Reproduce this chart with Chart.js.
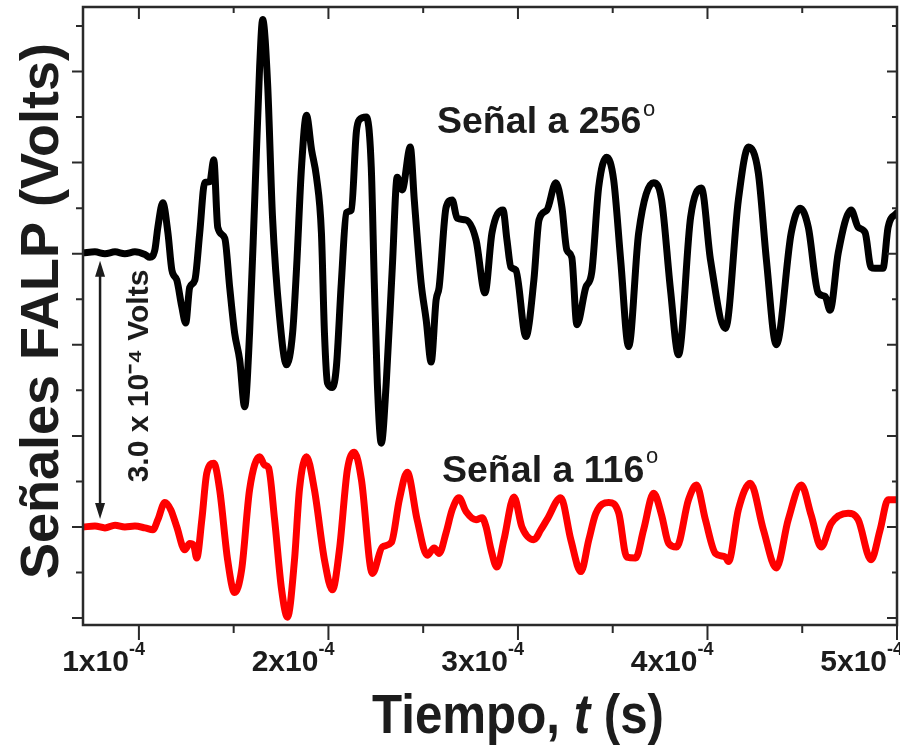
<!DOCTYPE html>
<html>
<head>
<meta charset="utf-8">
<script src="https://cdn.jsdelivr.net/npm/chart.js@4.4.1/dist/chart.umd.min.js"></script>
<style>
  html, body { margin: 0; padding: 0; background: #fff; }
  #wrap { width: 900px; height: 748px; }
</style>
</head>
<body>
<div id="wrap"><canvas id="falpChart" width="900" height="748"></canvas></div>
<script>
// tiempo en microsegundos (100 us = 1x10^-4 s), senal en unidades de 1x10^-4 V
const tiempo256 = [
  70.5, 76.8, 82.1, 87.4, 92.6, 97.9, 103.2, 105.8, 108.4, 110.0,
  112.6, 115.3, 117.4, 120.0, 122.6, 124.7, 126.8, 129.5, 132.1, 134.7,
  137.4, 139.5, 141.6, 145.3, 147.9, 150.5, 153.2, 155.8, 158.4, 161.1,
  163.7, 165.3, 167.9, 170.5, 174.2, 177.9, 181.1, 183.2, 185.8, 188.4,
  191.1, 193.7, 196.3, 197.9, 199.5, 202.1, 204.2, 206.8, 209.5, 212.1,
  214.7, 216.3, 220.0, 222.6, 224.2, 225.8, 227.9, 230.5, 233.7, 236.3,
  238.9, 243.2, 245.3, 248.9, 251.6, 254.2, 256.8, 258.4, 262.1, 265.3,
  267.9, 272.6, 277.9, 282.6, 286.3, 292.1, 294.2, 296.3, 298.9, 304.2,
  308.4, 311.1, 315.3, 320.0, 323.2, 325.8, 328.4, 331.1, 335.8, 338.9,
  342.6, 346.8, 350.5, 354.2, 358.4, 363.7, 371.6, 375.8, 380.5, 384.7,
  391.1, 396.8, 401.6, 409.5, 416.3, 421.6, 426.8, 431.1, 436.3, 444.2,
  448.9, 453.2, 458.4, 462.1, 464.7, 469.0, 475.8, 479.5, 483.2, 486.3,
  488.4, 492.6, 495.3, 500.0
];
const senal256 = [
  3.01, 3.02, 3.00, 3.02, 3.00, 3.02, 2.99, 2.96, 3.04, 3.29,
  3.56, 3.23, 2.82, 2.71, 2.42, 2.24, 2.63, 2.71, 3.23, 3.78,
  3.79, 4.03, 3.29, 3.17, 2.63, 2.13, 1.83, 1.32, 2.13, 3.59,
  5.05, 5.57, 4.87, 3.40, 2.31, 1.78, 2.13, 2.85, 3.95, 4.52,
  4.14, 3.84, 3.23, 2.13, 1.58, 1.53, 1.76, 2.68, 3.45, 3.48,
  4.33, 4.47, 4.50, 3.95, 2.68, 1.58, 0.92, 1.58, 2.85, 3.84,
  3.70, 4.17, 3.59, 2.68, 2.27, 1.81, 2.49, 2.63, 3.51, 3.59,
  3.39, 3.37, 3.15, 2.57, 3.23, 3.48, 3.15, 2.85, 2.82, 2.09,
  2.71, 3.37, 3.48, 3.78, 3.51, 3.04, 2.96, 2.22, 2.63, 2.79,
  3.73, 4.06, 3.81, 2.93, 1.98, 3.23, 3.78, 3.59, 2.60, 1.89,
  3.40, 3.72, 2.93, 2.18, 3.59, 4.17, 3.89, 2.93, 2.00, 3.23,
  3.50, 3.29, 2.57, 2.53, 2.38, 3.01, 3.48, 3.29, 3.23, 2.85,
  2.84, 2.84, 3.29, 3.45
];
const tiempo116 = [
  70.5, 76.8, 82.1, 87.4, 92.6, 97.9, 103.2, 107.4, 110.0, 113.7,
  116.8, 120.0, 124.2, 126.8, 128.9, 130.5, 133.2, 135.8, 139.5, 142.6,
  146.8, 150.5, 154.2, 158.4, 163.7, 166.3, 168.4, 171.6, 175.3, 178.4,
  182.1, 184.7, 188.4, 192.6, 197.9, 202.1, 205.8, 210.0, 213.7, 217.4,
  223.2, 228.4, 233.2, 237.4, 241.6, 246.8, 252.1, 255.8, 258.4, 262.1,
  265.3, 268.9, 272.6, 277.9, 281.1, 283.2, 285.8, 288.9, 292.6, 297.9,
  302.1, 308.4, 312.1, 315.3, 322.6, 327.9, 333.2, 337.4, 341.1, 347.9,
  353.2, 357.4, 362.1, 366.3, 371.6, 375.8, 379.5, 383.7, 390.0, 394.2,
  398.9, 404.2, 409.5, 411.1, 416.3, 422.6, 429.5, 436.3, 442.6, 449.5,
  454.7, 460.0, 465.3, 474.2, 479.5, 486.3, 491.1, 495.3, 500.0
];
const senal116 = [
  0.00, 0.01, -0.01, 0.02, 0.00, 0.01, -0.01, -0.03, 0.08, 0.27,
  0.19, 0.00, -0.25, -0.18, -0.20, -0.34, 0.08, 0.59, 0.70, 0.41,
  -0.36, -0.72, -0.47, 0.41, 0.77, 0.68, 0.65, 0.08, -0.69, -0.99,
  -0.36, 0.41, 0.77, 0.41, -0.36, -0.69, -0.25, 0.63, 0.82, 0.52,
  -0.51, -0.22, -0.17, 0.30, 0.60, 0.08, -0.31, -0.23, -0.29, -0.06,
  0.19, 0.32, 0.17, 0.08, 0.10, 0.00, -0.25, -0.44, -0.14, 0.33,
  0.00, -0.14, -0.03, 0.08, 0.32, -0.14, -0.49, -0.14, 0.15, 0.27,
  0.15, -0.33, -0.34, -0.03, 0.37, 0.13, -0.18, -0.22, 0.30, 0.46,
  0.08, -0.29, -0.33, -0.38, 0.19, 0.48, -0.03, -0.45, 0.08, 0.46,
  0.13, -0.22, 0.04, 0.15, 0.08, -0.36, -0.03, 0.30, 0.30
];
// marcas de los ejes
const xTickMarks = [100, 150, 200, 250, 300, 350, 400, 450, 500];
const xTickValues = [100, 200, 300, 400, 500];
const xTickMantisa = ['1x10', '2x10', '3x10', '4x10', '5x10'];
const xTickExp = '-4';
const yTickMarks = [-1, -0.5, 0, 0.5, 1, 1.5, 2, 2.5, 3, 3.5, 4, 4.5, 5, 5.5];
// flecha de separacion entre las dos lineas base
const flechaT = 79.5;
const flechaDesde = 0.0;
const flechaHasta = 3.0;

const FONT = "'Liberation Sans', Arial, sans-serif";
const INK = '#1c1c1c';

function toPoints(xs, ys) {
  const n = Math.min(xs.length, ys.length);
  const pts = [];
  for (let i = 0; i < n; i++) pts.push({ x: xs[i], y: ys[i] });
  return pts;
}

const framePlugin = {
  id: 'frame',
  afterDraw(chart) {
    const { ctx, chartArea: a, scales: { x, y } } = chart;
    ctx.save();
    ctx.strokeStyle = '#2a2a2a';
    ctx.lineWidth = 2.5;
    ctx.strokeRect(a.left, a.top, a.right - a.left, a.bottom - a.top);
    ctx.lineWidth = 2;
    ctx.beginPath();
    x.ticks.forEach(t => {
      const px = x.getPixelForValue(t.value);
      const major = t.value % 100 === 0;
      ctx.moveTo(px, a.bottom);
      ctx.lineTo(px, a.bottom + (major ? 15 : 8));
      ctx.moveTo(px, a.top);
      ctx.lineTo(px, a.top + (major ? 12 : 6));
    });
    y.ticks.forEach(t => {
      const py = y.getPixelForValue(t.value);
      const major = Math.abs(t.value - Math.round(t.value)) < 1e-6;
      ctx.moveTo(a.left, py);
      ctx.lineTo(a.left - (major ? 11 : 7), py);
      ctx.moveTo(a.right, py);
      ctx.lineTo(a.right - (major ? 10 : 5), py);
    });
    ctx.stroke();

    // etiquetas del eje x con exponente
    ctx.fillStyle = INK;
    ctx.textBaseline = 'alphabetic';
    ctx.textAlign = 'left';
    xTickValues.forEach((v, i) => {
      const px = x.getPixelForValue(v);
      ctx.font = `bold 18px ${FONT}`;
      const we = ctx.measureText(xTickExp).width;
      ctx.font = `bold 30px ${FONT}`;
      const wb = ctx.measureText(xTickMantisa[i]).width;
      const right = px + 6;
      ctx.fillText(xTickMantisa[i], right - we - wb, 671);
      ctx.font = `bold 18px ${FONT}`;
      ctx.fillText(xTickExp, right - we, 655);
    });
    ctx.restore();
  }
};

const textPlugin = {
  id: 'texts',
  afterDraw(chart) {
    const { ctx, scales: { x, y } } = chart;
    ctx.save();
    ctx.fillStyle = INK;
    ctx.strokeStyle = INK;
    ctx.textBaseline = 'alphabetic';
    ctx.textAlign = 'left';

    // etiquetas de las senales
    ctx.font = `bold 37.5px ${FONT}`;
    ctx.fillText('Señal a 256', 437, 133);
    ctx.fillText('Señal a 116', 442, 482);
    ctx.font = `22px ${FONT}`;
    ctx.fillText('o', 643, 116);
    ctx.fillText('o', 646, 463);

    // flecha doble
    const ax = x.getPixelForValue(flechaT);
    const yTop = y.getPixelForValue(flechaHasta) + 7;
    const yBot = y.getPixelForValue(flechaDesde) - 8;
    ctx.lineWidth = 2.5;
    ctx.beginPath();
    ctx.moveTo(ax, yTop + 10);
    ctx.lineTo(ax, yBot - 10);
    ctx.stroke();
    ctx.beginPath();
    ctx.moveTo(ax, yTop); ctx.lineTo(ax - 5, yTop + 16); ctx.lineTo(ax + 5, yTop + 16); ctx.closePath();
    ctx.moveTo(ax, yBot); ctx.lineTo(ax - 5, yBot - 16); ctx.lineTo(ax + 5, yBot - 16); ctx.closePath();
    ctx.fill();

    // texto de la flecha
    ctx.save();
    ctx.translate(148, 376);
    ctx.rotate(-Math.PI / 2);
    ctx.textAlign = 'center';
    ctx.font = `bold 30px ${FONT}`;
    ctx.fillText('3.0 x 10⁻⁴ Volts', 0, 0);
    ctx.restore();

    // titulo eje y
    ctx.save();
    ctx.translate(58, 311);
    ctx.rotate(-Math.PI / 2);
    ctx.textAlign = 'center';
    ctx.font = `bold 54px ${FONT}`;
    ctx.fillText('Señales FALP (Volts)', 0, 0);
    ctx.restore();

    // titulo eje x
    ctx.save();
    ctx.translate(518, 733);
    ctx.scale(0.88, 1);
    const p1 = 'Tiempo, ', p2 = 't', p3 = ' (s)';
    ctx.font = `bold 56px ${FONT}`;
    const w1 = ctx.measureText(p1).width;
    const w3 = ctx.measureText(p3).width;
    ctx.font = `italic bold 56px ${FONT}`;
    const w2 = ctx.measureText(p2).width;
    const sx = -(w1 + w2 + w3) / 2;
    ctx.font = `bold 56px ${FONT}`;
    ctx.fillText(p1, sx, 0);
    ctx.font = `italic bold 56px ${FONT}`;
    ctx.fillText(p2, sx + w1, 0);
    ctx.font = `bold 56px ${FONT}`;
    ctx.fillText(p3, sx + w1 + w2, 0);
    ctx.restore();

    ctx.restore();
  }
};

new Chart(document.getElementById('falpChart'), {
  type: 'line',
  data: {
    datasets: [
      {
        label: 'Señal a 256°',
        data: toPoints(tiempo256, senal256),
        borderColor: '#000000',
        borderWidth: 7
      },
      {
        label: 'Señal a 116°',
        data: toPoints(tiempo116, senal116),
        borderColor: '#ff0000',
        borderWidth: 7
      }
    ]
  },
  options: {
    responsive: false,
    animation: false,
    devicePixelRatio: 1,
    layout: { padding: { top: 7, right: 3, left: 0, bottom: 0 } },
    plugins: {
      legend: { display: false },
      tooltip: { enabled: false }
    },
    elements: {
      point: { radius: 0 },
      line: { cubicInterpolationMode: 'monotone', borderCapStyle: 'round', borderJoinStyle: 'round' }
    },
    scales: {
      x: {
        type: 'linear',
        min: 70.5,
        max: 500,
        grid: { display: false, drawTicks: false },
        border: { display: false },
        afterBuildTicks: s => { s.ticks = xTickMarks.map(v => ({ value: v })); },
        afterFit: s => { s.height = 123; },
        ticks: { display: false }
      },
      y: {
        type: 'linear',
        min: -1.076,
        max: 5.708,
        grid: { display: false, drawTicks: false },
        border: { display: false },
        afterBuildTicks: s => { s.ticks = yTickMarks.map(v => ({ value: v })); },
        afterFit: s => { s.width = 83; },
        ticks: { display: false }
      }
    }
  },
  plugins: [framePlugin, textPlugin]
});
</script>
</body>
</html>
